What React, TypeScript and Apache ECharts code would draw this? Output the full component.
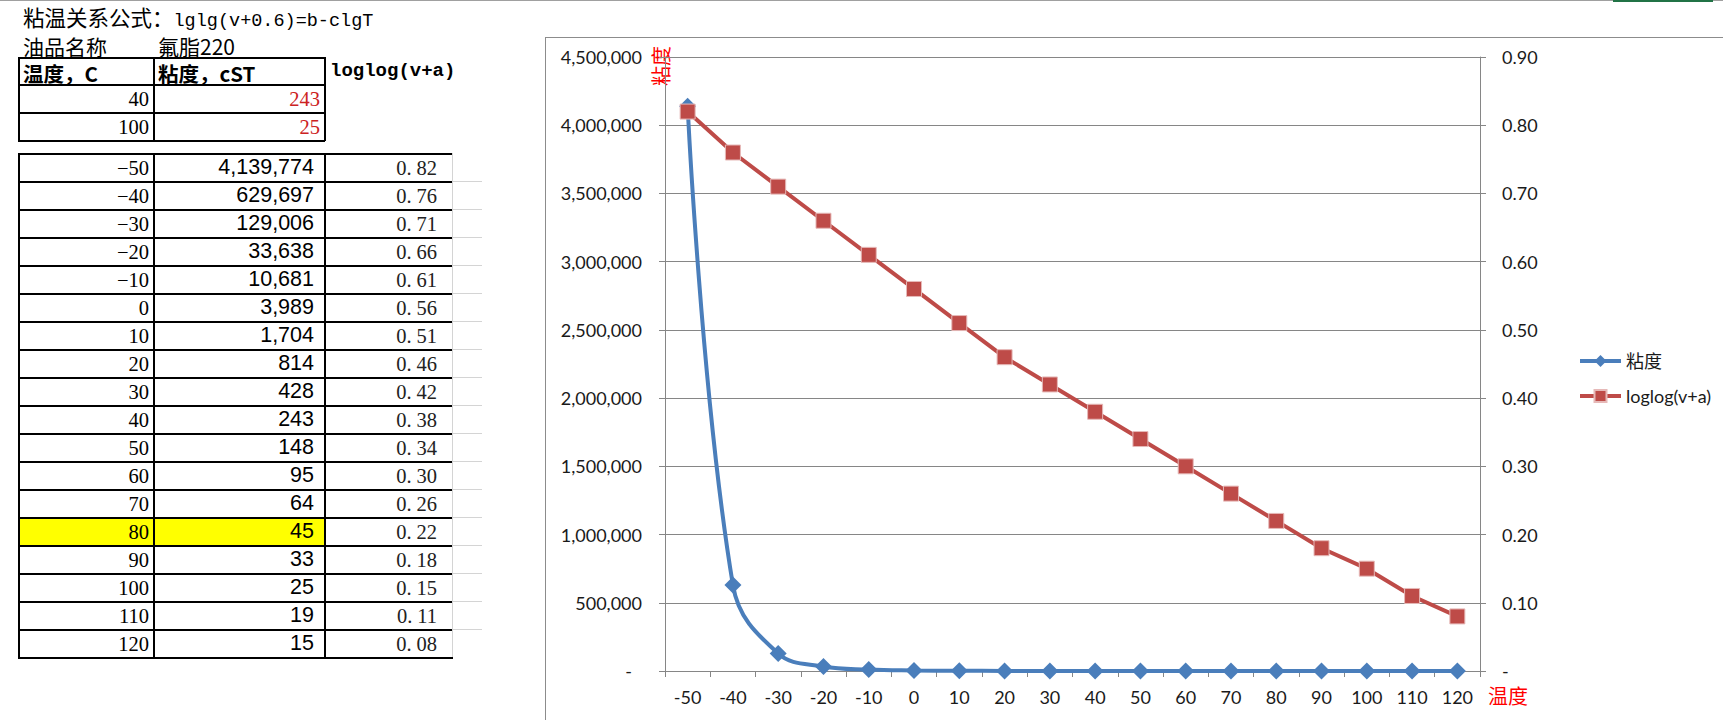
import React, { useEffect, useRef } from "react";
import * as echarts from "echarts";

// ---------- data ----------
const formulaLabel = "粘温关系公式：";
const formulaText = "lglg(v+0.6)=b-clgT";
const oilLabel = "油品名称";
const oilName = "氟脂220";
const headTemp = "温度，C";
const headVisc = "粘度，cST";
const headLog = "loglog(v+a)";
const refTemps = [40, 100];
const refVisc = [243, 25];
const temps = [-50, -40, -30, -20, -10, 0, 10, 20, 30, 40, 50, 60, 70, 80, 90, 100, 110, 120];
const viscosity = [4139774, 629697, 129006, 33638, 10681, 3989, 1704, 814, 428, 243, 148, 95, 64, 45, 33, 25, 19, 15];
const loglogV = [0.82, 0.76, 0.71, 0.66, 0.61, 0.56, 0.51, 0.46, 0.42, 0.38, 0.34, 0.3, 0.26, 0.22, 0.18, 0.15, 0.11, 0.08];
const highlightTemp = 80;
const seriesNames = ["粘度", "loglog(v+a)"];
const yAxisName = "粘度";
const xAxisName = "温度";

// ---------- styles ----------
const FONT = 'Lato, "Noto Sans CJK SC", sans-serif';
const SERIF = '"Liberation Serif", "Noto Sans CJK SC", serif';
const SANS = '"Liberation Sans", Arial, sans-serif';
const MONO = '"Liberation Mono", "Noto Sans CJK SC", monospace';
const CJK = '"Noto Sans CJK SC", sans-serif';
const GRAY = "#868686";
const TXT = "#1a1a1a";
const BLUE = "#4A7EBB";
const RED = "#BE4B48";

const fmtThousands = (v: number) => v.toLocaleString("en-US");

function Line({ x, y, w, h, c }: { x: number; y: number; w: number; h: number; c: string }) {
  return <div style={{ position: "absolute", left: x, top: y, width: w, height: h, background: c }} />;
}

function Cell({ x, y, w, h, pr, children, style }: any) {
  return (
    <div
      style={{
        position: "absolute",
        left: x,
        top: y,
        width: w,
        height: h,
        display: "flex",
        alignItems: "flex-end",
        justifyContent: "flex-end",
        paddingRight: pr,
        paddingBottom: 1,
        boxSizing: "border-box",
        whiteSpace: "nowrap",
        ...style,
      }}
    >
      {children}
    </div>
  );
}

function Tables() {
  const els: any[] = [];
  els.push(
    <div key="t1" style={{ position: "absolute", left: 23, top: 1, whiteSpace: "nowrap", color: "#000" }}>
      <span style={{ fontFamily: CJK, fontSize: 21.5 }}>{formulaLabel}</span>
      <span style={{ fontFamily: MONO, fontSize: 18.5 }}>{formulaText}</span>
    </div>
  );
  els.push(
    <div key="t2" style={{ position: "absolute", left: 23, top: 31, whiteSpace: "nowrap", fontFamily: CJK, fontSize: 21, color: "#000" }}>
      {oilLabel}
    </div>
  );
  els.push(
    <div key="t3" style={{ position: "absolute", left: 158, top: 31, whiteSpace: "nowrap", color: "#000" }}>
      <span style={{ fontFamily: CJK, fontSize: 21 }}>{oilName}</span>
    </div>
  );
  // table 1
  const t1Rows = [57, 84, 112, 140];
  t1Rows.forEach((y, i) => els.push(<Line key={"h1" + i} x={18} y={y} w={307} h={1.5} c="#000" />));
  [18, 153, 324].forEach((x, i) => els.push(<Line key={"v1" + i} x={x} y={57} w={1.5} h={84} c="#000" />));
  els.push(
    <div key="hd1" style={{ position: "absolute", left: 23, top: 58, fontFamily: CJK, fontWeight: 700, fontSize: 20.5, whiteSpace: "nowrap" }}>
      {headTemp}
    </div>
  );
  els.push(
    <div key="hd2" style={{ position: "absolute", left: 158, top: 58, fontFamily: CJK, fontWeight: 700, fontSize: 20.5, whiteSpace: "nowrap" }}>
      {headVisc}
    </div>
  );
  els.push(
    <div key="hd3" style={{ position: "absolute", left: 330, top: 60, fontFamily: MONO, fontWeight: 700, fontSize: 19, whiteSpace: "nowrap" }}>
      {headLog}
    </div>
  );
  refTemps.forEach((t, i) => {
    const y = t1Rows[i + 1];
    const h = t1Rows[i + 2] - y;
    els.push(
      <Cell key={"rt" + i} x={18} y={y} w={135} h={h} pr={4} style={{ fontFamily: SERIF, fontSize: 20.5, color: "#000" }}>
        {String(t)}
      </Cell>
    );
    els.push(
      <Cell key={"rv" + i} x={153} y={y} w={171} h={h} pr={4} style={{ fontFamily: SERIF, fontSize: 20.5, color: "#CC2222" }}>
        {String(refVisc[i])}
      </Cell>
    );
  });
  // table 2
  const y0 = 153;
  const rh = 28;
  const n = temps.length;
  temps.forEach((t, i) => {
    const y = y0 + i * rh;
    if (t === highlightTemp) els.push(<Line key={"hl"} x={18} y={y} w={306} h={rh} c="#FFFF00" />);
  });
  for (let i = 0; i <= n; i++) {
    els.push(<Line key={"h2" + i} x={18} y={y0 + i * rh} w={435} h={1.5} c="#000" />);
    if (i > 0 && i < n) els.push(<Line key={"g2" + i} x={453} y={y0 + i * rh} w={29} h={1} c="#d4d4d4" />);
  }
  [18, 153, 324].forEach((x, i) => els.push(<Line key={"v2" + i} x={x} y={y0} w={1.5} h={n * rh} c="#000" />));
  els.push(<Line key="v2g" x={452} y={y0} w={1} h={n * rh} c="#d4d4d4" />);
  temps.forEach((t, i) => {
    const y = y0 + i * rh;
    els.push(
      <Cell key={"c1" + i} x={18} y={y} w={135} h={rh} pr={4} style={{ fontFamily: SERIF, fontSize: 20.5, color: "#000" }}>
        {String(t).replace("-", "−")}
      </Cell>
    );
    els.push(
      <Cell key={"c2" + i} x={153} y={y} w={171} h={rh} pr={10} style={{ fontFamily: SANS, fontSize: 21.5, color: "#000" }}>
        {fmtThousands(viscosity[i])}
      </Cell>
    );
    const s = loglogV[i].toFixed(2);
    const [a, b] = s.split(".");
    els.push(
      <Cell key={"c3" + i} x={324} y={y} w={128} h={rh} pr={15} style={{ fontFamily: SERIF, fontSize: 20.5, color: "#222" }}>
        <span>
          {a}
          <span style={{ paddingRight: 5 }}>.</span>
          {b}
        </span>
      </Cell>
    );
  });
  return <>{els}</>;
}

function Chart() {
  const ref = useRef<HTMLDivElement>(null);
  useEffect(() => {
    const chart = echarts.init(ref.current!, undefined, { renderer: "svg" });
    const axisLbl = { color: TXT, fontSize: 18, fontFamily: FONT };
    chart.setOption({
      animation: false,
      textStyle: { fontFamily: FONT },
      grid: { left: 119, top: 19, width: 815, height: 614, containLabel: false },
      legend: {
        orient: "vertical",
        left: 1027,
        top: 309,
        itemWidth: 41,
        itemHeight: 15,
        itemGap: 17,
        lineStyle: { width: 4 },
        textStyle: { fontSize: 18, color: TXT, fontFamily: FONT },
        data: seriesNames,
      },
      xAxis: {
        type: "category",
        data: temps.map(String),
        boundaryGap: true,
        axisLine: { lineStyle: { color: GRAY, width: 1 } },
        axisTick: { show: true, length: 6, interval: 0, alignWithLabel: false, lineStyle: { color: GRAY } },
        axisLabel: { ...axisLbl, interval: 0, margin: 17 },
        splitLine: { show: false },
      },
      yAxis: [
        {
          type: "value",
          min: 0,
          max: 4500000,
          interval: 500000,
          axisLine: { show: true, lineStyle: { color: GRAY } },
          axisTick: { show: true, length: 6, lineStyle: { color: GRAY } },
          splitLine: { show: true, lineStyle: { color: GRAY, width: 1 } },
          axisLabel: {
            ...axisLbl,
            margin: 23,
            formatter: (v: number) => (v === 0 ? "{z|-}" : fmtThousands(v)),
            rich: { z: { fontSize: 18, color: TXT, fontFamily: FONT, padding: [0, 10, 0, 0] } },
          },
        },
        {
          type: "value",
          position: "right",
          min: 0,
          max: 0.9,
          interval: 0.1,
          axisLine: { show: true, lineStyle: { color: GRAY } },
          axisTick: { show: true, length: 6, lineStyle: { color: GRAY } },
          splitLine: { show: false },
          axisLabel: {
            ...axisLbl,
            margin: 22,
            formatter: (v: number) => (v === 0 ? "-" : v.toFixed(2)),
          },
        },
      ],
      series: [
        {
          name: seriesNames[0],
          type: "line",
          yAxisIndex: 0,
          data: viscosity,
          smooth: 0.4,
          symbol: "diamond",
          symbolSize: 17,
          lineStyle: { color: BLUE, width: 4 },
          itemStyle: { color: BLUE },
        },
        {
          name: seriesNames[1],
          type: "line",
          yAxisIndex: 1,
          data: loglogV,
          smooth: false,
          symbol: "rect",
          symbolSize: 15,
          lineStyle: { color: RED, width: 4 },
          itemStyle: { color: RED, borderColor: "#E6B9B8", borderWidth: 1 },
        },
      ],
      graphic: [
        {
          type: "text",
          x: 114,
          y: 28,
          rotation: Math.PI / 2,
          style: { text: yAxisName, fill: "#FF0000", fontSize: 20, fontFamily: CJK, align: "center", verticalAlign: "middle" },
        },
        {
          type: "text",
          x: 942,
          y: 657,
          style: { text: xAxisName, fill: "#FF0000", fontSize: 20, fontFamily: CJK, align: "left", verticalAlign: "middle" },
        },
      ],
    });
    return () => chart.dispose();
  }, []);
  return <div ref={ref} style={{ position: "absolute", left: 546, top: 38, width: 1177, height: 682 }} />;
}

export default function App() {
  return (
    <div style={{ position: "absolute", left: 0, top: 0, width: 1723, height: 720, background: "#fff", overflow: "hidden" }}>
      <Line x={0} y={0} w={1723} h={1} c="#a0a0a0" />
      <Line x={1613} y={0} w={100} h={2} c="#217346" />
      <Tables />
      <Line x={545} y={37} w={1178} h={1} c="#8c8c8c" />
      <Line x={545} y={37} w={1} h={683} c="#8c8c8c" />
      <Chart />
    </div>
  );
}
